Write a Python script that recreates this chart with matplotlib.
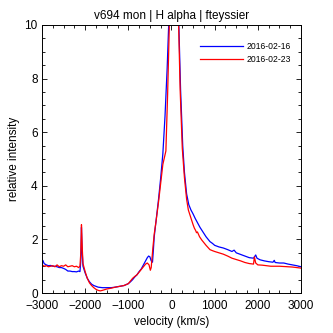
import matplotlib
matplotlib.use("Agg")
import matplotlib.pyplot as plt
from matplotlib.ticker import MultipleLocator

plt.rcParams['font.family'] = ['Liberation Sans', 'DejaVu Sans']

title = "v694 mon | H alpha | fteyssier"
labels = ["2016-02-16", "2016-02-23"]

v_blue = [-3000, -2980, -2950, -2900, -2850, -2800, -2750, -2700, -2650, -2600, -2550, -2500,
          -2450, -2400, -2350, -2300, -2250, -2200, -2150, -2120, -2100, -2085, -2070, -2050,
          -2000, -1950, -1900, -1850, -1800, -1750, -1700, -1600, -1500, -1400, -1300, -1200,
          -1100, -1000, -950, -900, -850, -800, -750, -700, -650, -600, -560, -530, -500, -470,
          -440, -420, -400, -350, -300, -250, -200, -150, -100, -65, 0, 60, 120, 170, 210, 260,
          300, 350, 400, 450, 500, 550, 600, 660, 720, 800, 890, 950, 1000, 1100, 1200, 1300,
          1400, 1450, 1500, 1600, 1700, 1800, 1900, 1950, 1980, 2050, 2150, 2250, 2350, 2380,
          2400, 2500, 2600, 2700, 2800, 2900, 3000]
i_blue = [1.15, 1.22, 1.10, 1.05, 1.02, 1.03, 1.00, 1.00, 0.98, 0.95, 0.95, 0.92,
          0.88, 0.82, 0.82, 0.80, 0.80, 0.79, 0.82, 0.80, 1.20, 2.45, 1.60, 1.00,
          0.75, 0.55, 0.42, 0.33, 0.28, 0.25, 0.22, 0.20, 0.20, 0.20, 0.22, 0.25,
          0.28, 0.35, 0.42, 0.50, 0.60, 0.68, 0.80, 0.90, 1.05, 1.20, 1.32, 1.38, 1.35, 1.20,
          1.15, 1.60, 2.10, 2.80, 3.50, 4.30, 5.20, 6.60, 8.40, 10.0, 13.0, 14.5, 12.5, 10.0, 7.6, 5.5,
          4.50, 3.70, 3.30, 3.10, 2.95, 2.78, 2.63, 2.45, 2.30, 2.10, 1.92, 1.85, 1.78, 1.72, 1.68, 1.62,
          1.55, 1.60, 1.50, 1.44, 1.38, 1.32, 1.30, 1.42, 1.30, 1.24, 1.20, 1.17, 1.15, 1.22,
          1.14, 1.12, 1.12, 1.08, 1.05, 1.02, 0.98]

v_red = [-3000, -2950, -2900, -2850, -2800, -2750, -2700, -2650, -2600, -2550, -2500, -2450,
         -2400, -2350, -2300, -2250, -2200, -2150, -2120, -2100, -2085, -2070, -2050, -2000,
         -1950, -1900, -1850, -1800, -1750, -1700, -1650, -1600, -1500, -1400, -1300, -1200,
         -1100, -1000, -950, -900, -850, -800, -750, -700, -650, -600, -560, -520, -490, -470,
         -430, -400, -360, -300, -250, -200, -130, -90, -50, 0, 60, 120, 165, 200, 250, 300,
         350, 390, 450, 500, 530, 560, 580, 600, 650, 700, 750, 800, 890, 950, 1000, 1100,
         1200, 1300, 1400, 1500, 1600, 1700, 1800, 1900, 1920, 1950, 2000, 2100, 2200, 2300,
         2400, 2500, 2600, 2700, 2800, 2900, 3000]
i_red = [1.05, 1.00, 1.02, 0.98, 1.00, 1.02, 0.98, 1.05, 0.98, 1.02, 1.00, 1.05,
         0.98, 1.00, 1.02, 0.98, 1.00, 0.95, 1.00, 1.50, 2.55, 1.80, 1.10, 0.80,
         0.55, 0.38, 0.28, 0.20, 0.14, 0.10, 0.08, 0.10, 0.15, 0.18, 0.22, 0.25,
         0.28, 0.35, 0.45, 0.55, 0.62, 0.68, 0.78, 0.88, 0.98, 1.08, 1.12, 1.05, 0.85, 0.95,
         1.70, 2.20, 2.65, 3.40, 4.10, 4.80, 5.30, 7.40, 10.0, 12.5, 14.5, 12.5, 10.0, 7.6, 5.4, 4.3,
         3.50, 3.10, 2.80, 2.55, 2.42, 2.33, 2.25, 2.28, 2.10, 1.98, 1.88, 1.78, 1.62, 1.58, 1.55, 1.50,
         1.45, 1.38, 1.30, 1.25, 1.20, 1.14, 1.10, 1.08, 1.35, 1.12, 1.05, 1.04, 1.02, 1.00,
         1.00, 1.00, 0.99, 0.98, 0.97, 0.95, 0.93]

fig = plt.figure(figsize=(3.33, 3.33), dpi=100)
ax = fig.add_axes([0.126, 0.12, 0.778, 0.805])
ax.plot(v_blue, i_blue, color='#0000ff', lw=0.9, label=labels[0])
ax.plot(v_red, i_red, color='#ff0000', lw=0.9, label=labels[1])
ax.set_xlim(-3000, 3000)
ax.set_ylim(0, 10)
ax.xaxis.set_major_locator(MultipleLocator(1000))
ax.xaxis.set_minor_locator(MultipleLocator(250))
ax.yaxis.set_major_locator(MultipleLocator(2))
ax.yaxis.set_minor_locator(MultipleLocator(0.5))
ax.tick_params(which='both', direction='in', top=True, right=True, labelsize=8.5, width=0.6)
ax.tick_params(which='major', length=3.5)
ax.tick_params(which='minor', length=2)
ax.tick_params(axis='x', which='major', pad=5)
ax.tick_params(axis='y', which='major', pad=3)
for s in ax.spines.values():
    s.set_linewidth(0.7)
ax.set_xlabel("velocity (km/s)", fontsize=8.5, labelpad=3)
ax.set_ylabel("relative intensity", fontsize=8.5, labelpad=3)
ax.set_title(title, fontsize=8.5, pad=4)
ax.legend(loc='upper right', frameon=False, fontsize=6.2, handlelength=5.0,
          handletextpad=0.4, labelspacing=0.5, bbox_to_anchor=(0.99, 0.965))
fig.savefig("out.png", dpi=100)
